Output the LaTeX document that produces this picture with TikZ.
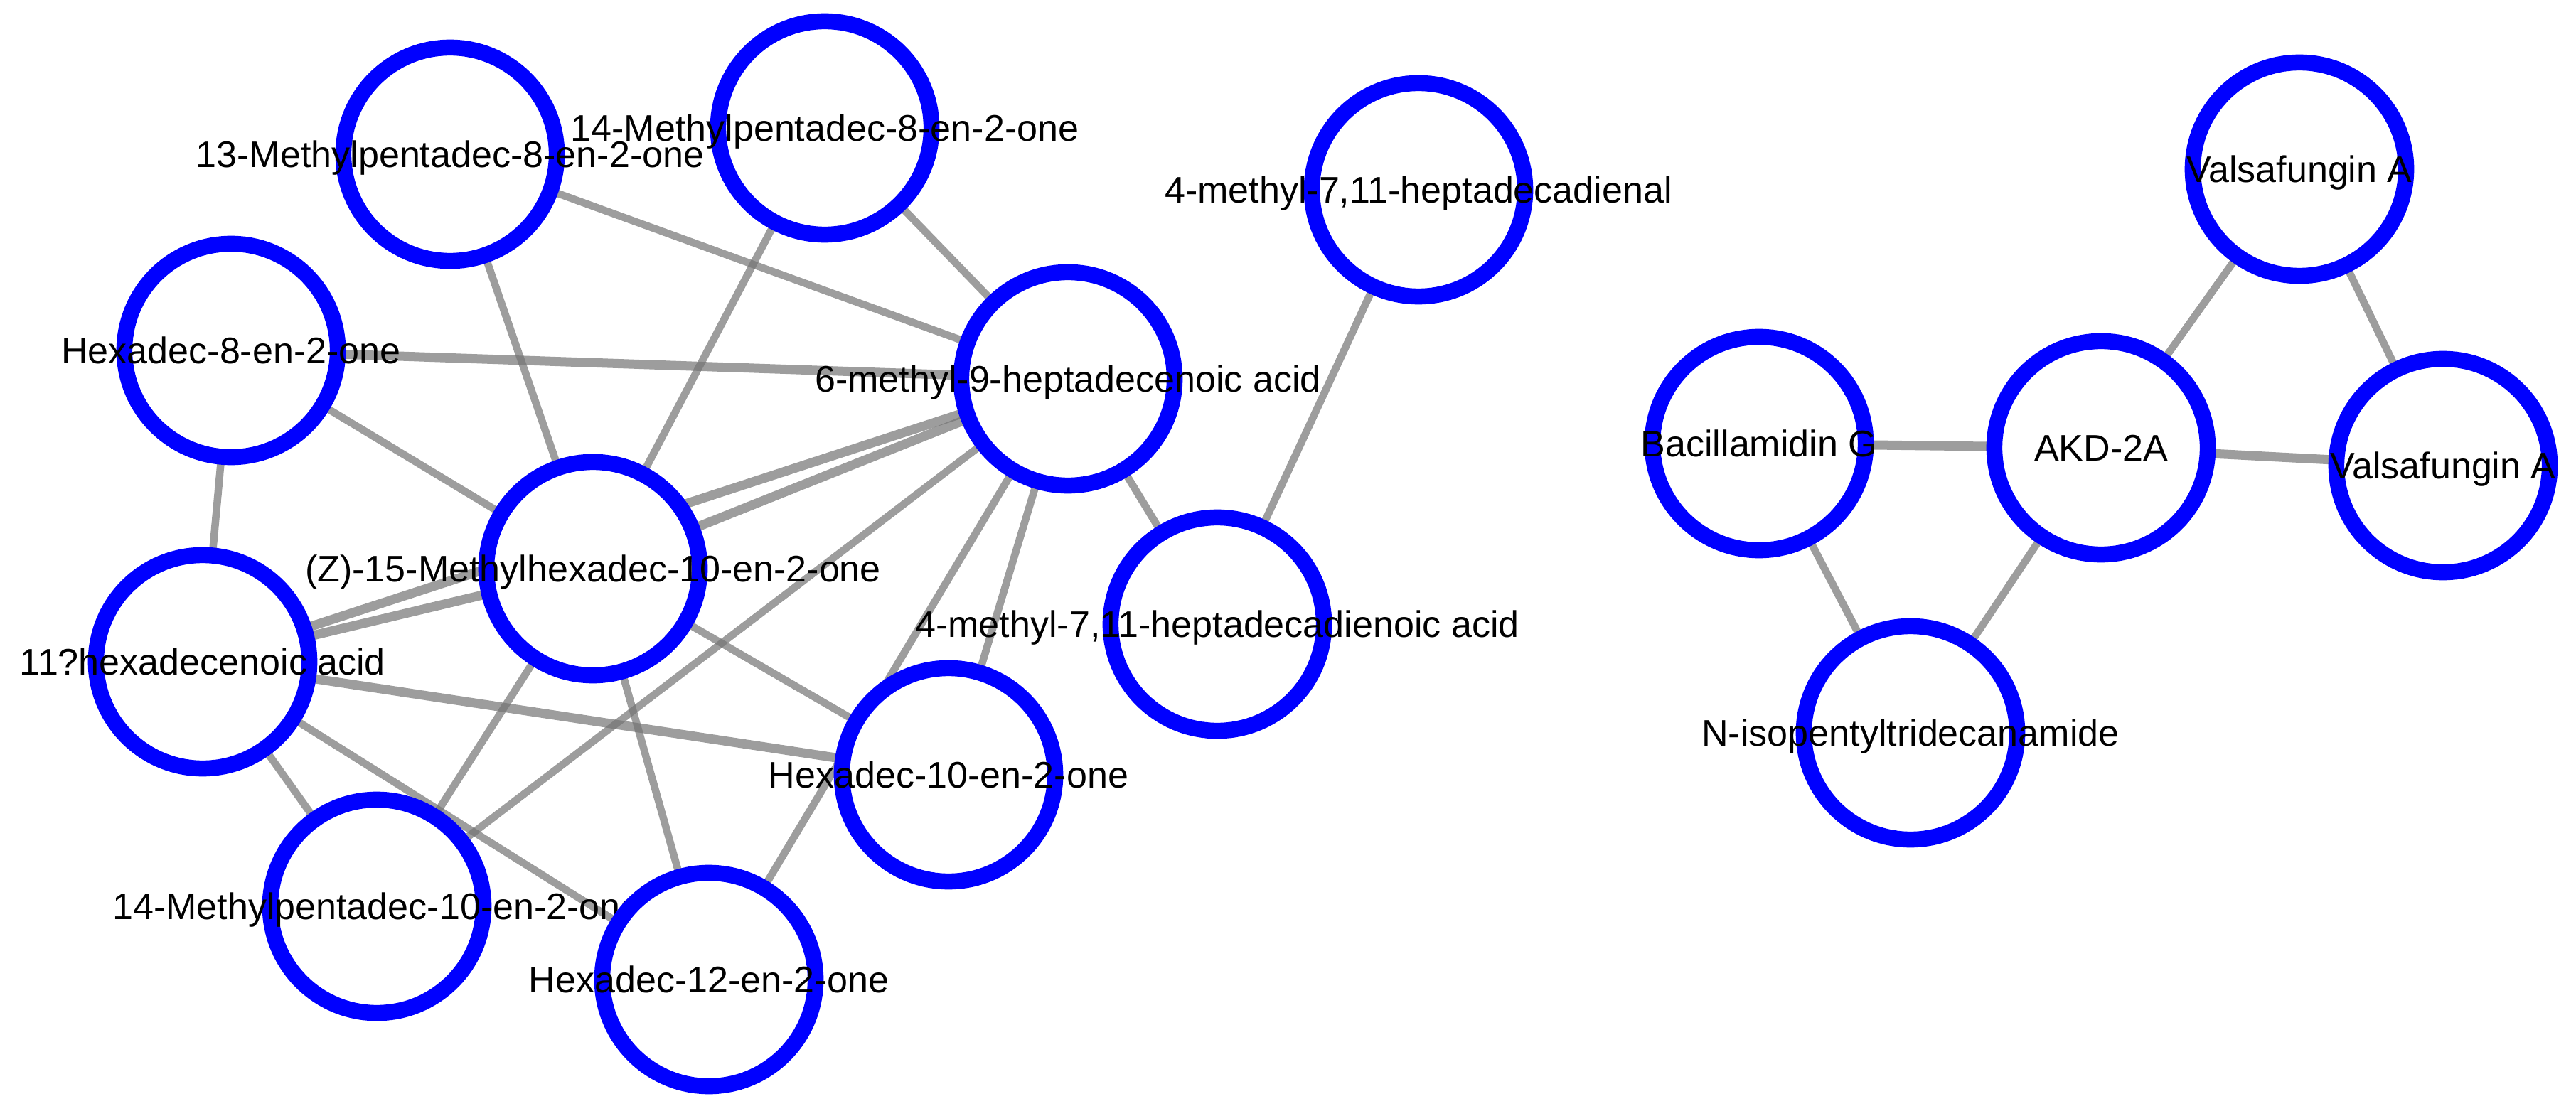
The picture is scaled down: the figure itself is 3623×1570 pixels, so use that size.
\documentclass[tikz,border=0pt]{standalone}
\usepackage{fontspec}
\setmainfont{Liberation Sans}
\definecolor{nodeblue}{RGB}{0,0,255}
\definecolor{edgegray}{RGB}{115,115,115}
\pgfdeclarelayer{edges}
\pgfsetlayers{edges,main}
\begin{document}
\begin{tikzpicture}[x=0.01cm,y=-0.01cm,
  nd/.style={circle, draw=nodeblue, fill=white, line width=0.225cm, minimum size=3cm, inner sep=0pt},
  lbl/.style={font=\fontsize{14.8}{17}\selectfont, text=black, inner sep=0pt, text height=10.66pt, text depth=0pt},
  ed/.style={draw=edgegray, draw opacity=0.7, line width=0.105cm},
  edt/.style={ed, line width=0.13cm}]
\useasboundingbox (0,0) rectangle (3623,1570);
% nodes
\node[nd, label={[lbl]center:{13-Methylpentadec-8-en-2-one}}] (m13) at (633,217) {};
\node[nd, label={[lbl]center:{14-Methylpentadec-8-en-2-one}}] (m14a) at (1160,180) {};
\node[nd, label={[lbl]center:{Hexadec-8-en-2-one}}] (h8) at (325,493) {};
\node[nd, label={[lbl]center:{6-methyl-9-heptadecenoic acid}}] (m6h) at (1502,533) {};
\node[nd, label={[lbl]center:{4-methyl-7,11-heptadecadienal}}] (dienal) at (1995,267) {};
\node[nd, label={[lbl]center:{11?hexadecenoic acid}}] (h11a) at (285,931) {};
\node[nd, label={[lbl]center:{(Z)-15-Methylhexadec-10-en-2-one}}] (z15) at (834,800) {};
\node[nd, label={[lbl]center:{14-Methylpentadec-10-en-2-one}}] (m14b) at (530,1275) {};
\node[nd, label={[lbl]center:{Hexadec-12-en-2-one}}] (h12) at (997,1378) {};
\node[nd, label={[lbl]center:{Hexadec-10-en-2-one}}] (h10) at (1334,1090) {};
\node[nd, label={[lbl]center:{4-methyl-7,11-heptadecadienoic acid}}] (dienoic) at (1712,878) {};
\node[nd, label={[lbl]center:{Valsafungin A}}] (valsT) at (3234,238) {};
\node[nd, label={[lbl]center:{Bacillamidin G}}] (bac) at (2474,624) {};
\node[nd, label={[lbl]center:{AKD-2A}}] (akd) at (2955,630) {};
\node[nd, label={[lbl]center:{Valsafungin A}}] (valsR) at (3436,655) {};
\node[nd, label={[lbl]center:{N-isopentyltridecanamide}}] (niso) at (2687,1031) {};
% edges
\begin{pgfonlayer}{edges}
\draw[ed] (m13.center) -- (m6h.center);
\draw[ed] (m13.center) -- (z15.center);
\draw[ed] (m14a.center) -- (m6h.center);
\draw[ed] (m14a.center) -- (z15.center);
\draw[edt] (h8.center) -- (m6h.center);
\draw[ed] (h8.center) -- (z15.center);
\draw[ed] (h8.center) -- (h11a.center);
\draw[edt] (z15.center) -- (m6h.center);
\draw[edt] (h11a.center) -- (z15.center);
\draw[edt] (h11a.center) -- (m6h.center);
\draw[edt] (h11a.center) -- (h10.center);
\draw[ed] (h11a.center) -- (m14b.center);
\draw[ed] (h11a.center) -- (h12.center);
\draw[ed] (z15.center) -- (m14b.center);
\draw[ed] (z15.center) -- (h12.center);
\draw[ed] (z15.center) -- (h10.center);
\draw[ed] (m6h.center) -- (m14b.center);
\draw[ed] (m6h.center) -- (h12.center);
\draw[ed] (m6h.center) -- (h10.center);
\draw[ed] (m6h.center) -- (dienoic.center);
\draw[ed] (dienal.center) -- (dienoic.center);
\draw[edt] (bac.center) -- (akd.center);
\draw[edt] (akd.center) -- (valsR.center);
\draw[ed] (akd.center) -- (valsT.center);
\draw[ed] (valsT.center) -- (valsR.center);
\draw[ed] (bac.center) -- (niso.center);
\draw[ed] (akd.center) -- (niso.center);
\end{pgfonlayer}
\end{tikzpicture}
\end{document}
